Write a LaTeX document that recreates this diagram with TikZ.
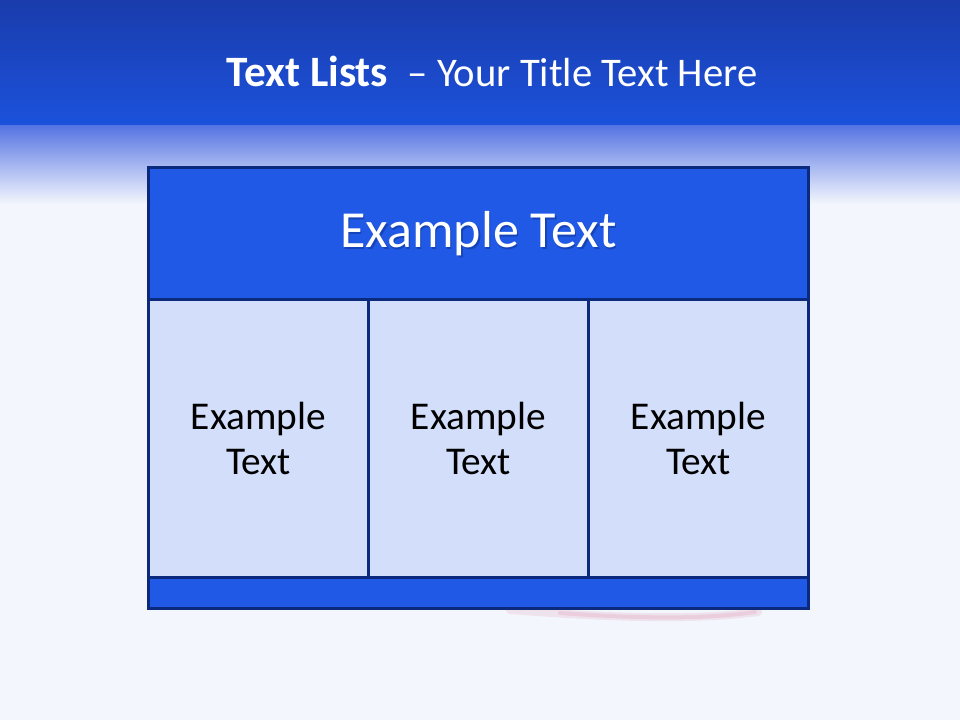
\documentclass[tikz,border=0pt]{standalone}
\usepackage{fontspec}
\setmainfont{Carlito}
\definecolor{bandtop}{HTML}{1A3CAC}
\definecolor{bandlow}{HTML}{1B52DC}
\definecolor{fadetop}{HTML}{5775E3}
\definecolor{fademid}{HTML}{B5C3F3}
\definecolor{pagebg}{HTML}{F3F6FD}
\definecolor{headblue}{HTML}{2059E6}
\definecolor{cellblue}{HTML}{D3DFFA}
\definecolor{rulenavy}{HTML}{0B2A7E}
\definecolor{smearpink}{HTML}{E3A9C0}
\tikzset{
  tablebox/.style={draw=rulenavy, line width=2.25pt, inner sep=0pt, outer sep=0pt, align=center},
  headbox/.style={tablebox, fill=headblue, minimum width=495pt, minimum height=99pt},
  bodybox/.style={tablebox, fill=cellblue, minimum width=165pt, minimum height=207.75pt,
    font=\fontsize{29.5}{34}\selectfont},
  footbox/.style={tablebox, fill=headblue, minimum width=495pt, minimum height=23.25pt},
  headfont/.style={font=\fontsize{39}{44}\selectfont}
}
\begin{document}
\begin{tikzpicture}[x=0.75pt, y=0.75pt]
    \useasboundingbox (0,0) rectangle (960,-720);
    % page background and title band
    \fill[pagebg] (0,0) rectangle (960,-720);
    \shade[top color=bandtop, bottom color=bandlow] (0,0) rectangle (960,-126);
    \shade[top color=fadetop, middle color=fademid, bottom color=pagebg] (0,-126) rectangle (960,-204);
    \node[text=white, anchor=base] (title) at (492,-87)
        {\fontsize{32.5}{38}\selectfont\textbf{Text Lists}\ \ \fontsize{30.5}{38}\selectfont – Your Title Text Here};
    % faint reflection under the table
    \draw[smearpink, opacity=0.25, line width=6, line cap=round]
        (510,-610) .. controls (600,-617) and (690,-621) .. (758,-612);
    \draw[smearpink, opacity=0.35, line width=3, line cap=round]
        (560,-613) .. controls (630,-618) and (700,-620) .. (755,-612);
    % the table
    \node[headbox] (head) at (478.5,-234) {};
    \node[headfont, text=rulenavy, opacity=0.45] (headshadow) at ([shift={(1.5,-1.5)}]head.center) {Example Text};
    \node[headfont, text=white] (headtext) at (head.center) {Example Text};
    \node[bodybox, anchor=north west] (cellA) at (head.south west) {Example\\Text};
    \node[bodybox, anchor=north west] (cellB) at (cellA.north east) {Example\\Text};
    \node[bodybox, anchor=north west] (cellC) at (cellB.north east) {Example\\Text};
    \node[footbox, anchor=north west] (foot) at (cellA.south west) {};
\end{tikzpicture}
\end{document}
